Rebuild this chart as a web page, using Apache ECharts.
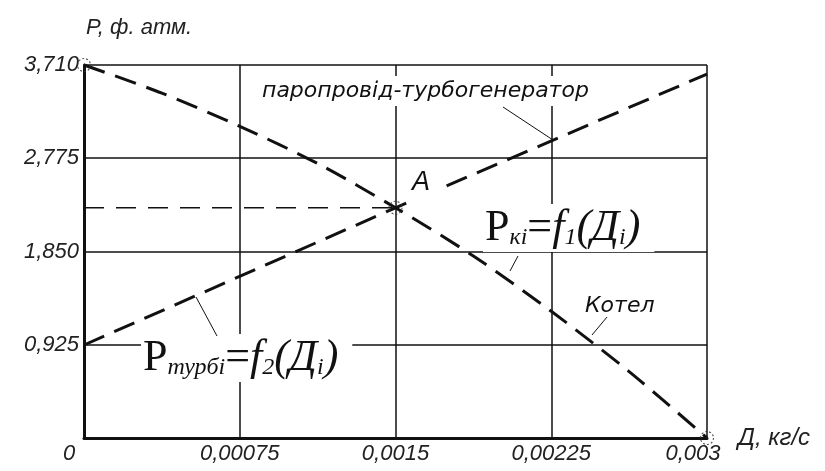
<!DOCTYPE html>
<html>
<head>
<meta charset="utf-8">
<script src="https://cdn.jsdelivr.net/npm/echarts@6/dist/echarts.min.js"></script>
<style>
  html, body { margin: 0; padding: 0; background: #fff; }
  #chart { width: 825px; height: 471px; }
</style>
</head>
<body>
<div id="chart"></div>
<script>
// Steam flow Д, kg/s, at which the boiler characteristic is sampled
const flowD = [0, 0.000375, 0.00075, 0.001125, 0.0015, 0.001875, 0.00225, 0.002625, 0.003];
// Boiler pressure Pк = f1(Д), atm
const boilerP = [3.71, 3.43, 3.10, 2.73, 2.29, 1.81, 1.26, 0.66, 0];
// Steam line – turbogenerator pressure Pтурб = f2(Д), atm
const turbineD = [0, 0.0015, 0.003];
const turbineP = [0.925, 2.29, 3.62];
// Operating point A (intersection of both characteristics)
const pointA = [0.0015, 2.29];

// Axis tick labels
const xTickLabels = ['0', '0,00075', '0,0015', '0,00225', '0,003'];
const yTickLabels = ['0', '0,925', '1,850', '2,775', '3,710'];

const X_MAX = 0.003;
const Y_MAX = 3.71;
const X_STEP = X_MAX / 4;
const Y_STEP = Y_MAX / 4;

const INK = '#111';
const SANS = "'Liberation Sans', Arial, sans-serif";
const ROUND = "'DejaVu Sans', sans-serif";
const SERIF = "'Liberation Serif', 'Times New Roman', serif";

const chart = echarts.init(document.getElementById('chart'), null, { renderer: 'canvas' });

const thickDash = { color: INK, width: 3, type: [22, 11] };

// rich styles for the formula labels (tokens share a common bottom line)
const formulaRich = {
  big: { fontFamily: SERIF, fontSize: 44, lineHeight: 44, fill: INK, verticalAlign: 'bottom' },
  bigI: { fontFamily: SERIF, fontSize: 44, lineHeight: 44, fontStyle: 'italic', fill: INK, verticalAlign: 'bottom' },
  sub: { fontFamily: SERIF, fontSize: 24, lineHeight: 24, fontStyle: 'italic', fill: INK, verticalAlign: 'bottom' }
};

chart.setOption({
  animation: false,
  backgroundColor: '#fff',
  grid: { left: 84, right: 118, top: 65, bottom: 33, show: false },
  xAxis: {
    type: 'value',
    min: 0,
    max: X_MAX,
    interval: X_STEP,
    name: 'Д, кг/с',
    nameLocation: 'end',
    nameGap: 31,
    nameTextStyle: {
      fontFamily: SANS, fontSize: 24, fontStyle: 'italic', color: '#222',
      align: 'left', verticalAlign: 'middle', padding: [0, 0, 16, 0]
    },
    axisLine: { show: true, onZero: false, lineStyle: { color: INK, width: 3 } },
    axisTick: { show: false },
    splitLine: { show: true, lineStyle: { color: INK, width: 1.5 } },
    axisLabel: {
      margin: 5,
      fontFamily: SANS, fontSize: 22, fontStyle: 'italic', color: '#222',
      formatter: function (v) {
        const i = Math.round(v / X_STEP);
        if (i === 0) return '{o|' + xTickLabels[0] + '}';
        if (i === xTickLabels.length - 1) return '{e|' + xTickLabels[i] + '}';
        return xTickLabels[i];
      },
      rich: {
        o: { fontFamily: SANS, fontSize: 22, fontStyle: 'italic', color: '#222', padding: [0, 30, 0, 0] },
        e: { fontFamily: SANS, fontSize: 22, fontStyle: 'italic', color: '#222', padding: [0, 28, 0, 0] }
      }
    }
  },
  yAxis: {
    type: 'value',
    min: 0,
    max: Y_MAX,
    interval: Y_STEP,
    name: 'P, ф. атм.',
    nameLocation: 'end',
    nameGap: 26,
    nameTextStyle: {
      fontFamily: SANS, fontSize: 22, fontStyle: 'italic', color: '#222',
      align: 'left', padding: [0, 0, 0, 2]
    },
    axisLine: { show: true, lineStyle: { color: INK, width: 3 } },
    axisTick: { show: false },
    splitLine: { show: true, lineStyle: { color: INK, width: 1.5 } },
    axisLabel: {
      margin: 5,
      fontFamily: SANS, fontSize: 22, fontStyle: 'italic', color: '#222',
      formatter: function (v) {
        const i = Math.round(v / Y_STEP);
        return i === 0 ? '' : yTickLabels[i];
      }
    }
  },
  series: [
    {
      name: 'Котел',
      type: 'line',
      data: flowD.map((d, i) => [d, boilerP[i]]),
      smooth: 0.3,
      showSymbol: false,
      clip: false,
      silent: true,
      lineStyle: thickDash,
      z: 3
    },
    {
      name: 'паропровід-турбогенератор',
      type: 'line',
      data: turbineD.map((d, i) => [d, turbineP[i]]),
      showSymbol: false,
      clip: false,
      silent: true,
      lineStyle: thickDash,
      z: 3
    },
    {
      // projection of point A onto the pressure axis
      type: 'line',
      data: [[0, pointA[1]], pointA],
      showSymbol: false,
      silent: true,
      lineStyle: { color: INK, width: 1.5, type: [20, 12] },
      z: 2
    },
    {
      // characteristic end points and operating point
      type: 'scatter',
      data: [[flowD[0], boilerP[0]], [flowD[flowD.length - 1], boilerP[boilerP.length - 1]], pointA],
      symbol: 'circle',
      symbolSize: 13,
      clip: false,
      silent: true,
      itemStyle: { color: 'rgba(255,255,255,0)', borderColor: '#333', borderWidth: 1.2, borderType: [2, 2] },
      z: 5
    }
  ],
  graphic: [
    {
      type: 'text', x: 260, y: 91, z: 50,
      style: {
        text: 'паропровід-турбогенератор',
        font: 'italic 22px ' + ROUND, fill: INK,
        verticalAlign: 'middle', backgroundColor: '#fff', padding: [4, 4, 4, 2]
      }
    },
    {
      type: 'text', x: 585, y: 306, z: 50,
      style: { text: 'Котел', font: 'italic 22px ' + ROUND, fill: INK, verticalAlign: 'middle' }
    },
    {
      type: 'text', x: 410, y: 182, z: 50,
      style: {
        text: 'A', font: 'italic 27px ' + SANS, fill: INK,
        verticalAlign: 'middle', backgroundColor: '#fff', padding: [4, 16, 6, 2]
      }
    },
    {
      type: 'text', x: 483, y: 204, z: 50,
      style: {
        text: '{big|P}{sub|кі}{big|=}{bigI|f}{sub|1}{bigI|(Д}{sub|i}{bigI|)}',
        rich: formulaRich,
        verticalAlign: 'top', backgroundColor: '#fff', padding: [2, 14, 2, 2]
      }
    },
    {
      type: 'text', x: 141, y: 334, z: 50,
      style: {
        text: '{big|P}{sub|турбі}{big|=}{bigI|f}{sub|2}{bigI|(Д}{sub|i}{bigI|)}',
        rich: formulaRich,
        verticalAlign: 'top', backgroundColor: '#fff', padding: [2, 14, 2, 2]
      }
    },
    // leader lines from the captions to the curves
    { type: 'line', z: 60, shape: { x1: 503, y1: 107, x2: 553, y2: 140 }, style: { stroke: INK, lineWidth: 1 } },
    { type: 'line', z: 60, shape: { x1: 607, y1: 317, x2: 592, y2: 335 }, style: { stroke: INK, lineWidth: 1 } },
    { type: 'line', z: 60, shape: { x1: 518, y1: 256, x2: 510, y2: 271 }, style: { stroke: INK, lineWidth: 1 } },
    { type: 'line', z: 60, shape: { x1: 196, y1: 297, x2: 217, y2: 336 }, style: { stroke: INK, lineWidth: 1 } }
  ]
});
</script>
</body>
</html>
